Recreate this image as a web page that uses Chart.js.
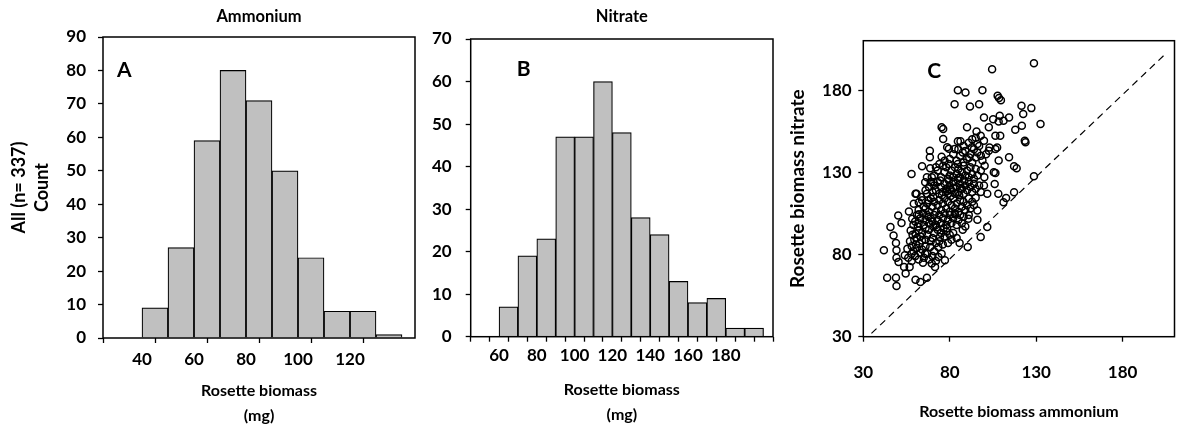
<!DOCTYPE html>
<html>
<head>
<meta charset="utf-8">
<script src="https://cdn.jsdelivr.net/npm/chart.js@4.4.0/dist/chart.umd.min.js"></script>
<style>
html, body { margin: 0; padding: 0; background: #fff; }
#wrap { position: relative; width: 1180px; height: 431px; overflow: hidden; }
.panel { position: absolute; top: 0; height: 431px; }
</style>
</head>
<body>
<div id="wrap">
  <div class="panel" style="left:0;width:420px"><canvas id="chartA"></canvas></div>
  <div class="panel" style="left:420px;width:360px"><canvas id="chartB"></canvas></div>
  <div class="panel" style="left:780px;width:400px"><canvas id="chartC"></canvas></div>
</div>
<script>
// histogram A - ammonium (bin centres, 10 mg bins)
const ammoniumBinCentres = [45, 55, 65, 75, 85, 95, 105, 115, 125, 135];
const ammoniumCounts = [9, 27, 59, 80, 71, 50, 24, 8, 8, 1];
const ammoniumTickLabels = [40, 60, 80, 100, 120];
const ammoniumTickMarks = [30, 50, 70, 90, 110, 130];

// histogram B - nitrate
const nitrateBinCentres = [65, 75, 85, 95, 105, 115, 125, 135, 145, 155, 165, 175, 185, 195];
const nitrateCounts = [7, 19, 23, 47, 47, 60, 48, 28, 24, 13, 8, 9, 2, 2];
const nitrateTickLabels = [60, 80, 100, 120, 140, 160, 180];

// scatter C - [ammonium, nitrate] per plant
const biomassPairs = [
  [128.7,196.3],[104.5,192.6],[84.7,179.9],[89.1,178.5],[98.9,179.9],[107.7,176.5],[109.6,173.8],[108.5,175.2],
  [82.8,171.4],[91.7,170.0],[97.0,171.4],[121.5,170.4],[122.5,165.4],[127.2,169.0],[99.8,163.3],[105.1,162.3],
  [108.9,164.3],[114.3,163.3],[108.3,160.9],[111.1,161.3],[132.5,159.3],[121.7,158.3],[117.9,155.9],[75.3,157.3],
  [76.2,156.3],[90.0,157.3],[102.6,157.3],[95.5,154.8],[97.9,152.2],[106.4,152.2],[109.2,152.2],[76.2,150.2],
  [84.7,148.8],[86.2,148.8],[123.4,149.2],[123.8,148.2],[78.5,145.2],[79.5,144.3],[92.8,145.2],[96.0,147.2],
  [99.8,149.2],[106.4,144.1],[107.4,145.0],[102.6,143.1],[114.3,139.1],[68.5,143.1],[68.5,139.1],[75.3,139.5],
  [82.8,144.1],[87.5,142.0],[91.3,139.0],[98.9,137.1],[108.3,137.1],[100.2,134.0],[117.2,133.6],[118.7,132.4],
  [64.0,133.6],[68.7,132.4],[76.2,134.0],[79.4,135.0],[84.7,135.0],[57.9,129.0],[128.7,127.6],[105.5,130.0],
  [106.4,129.5],[106.0,122.9],[99.8,122.0],[108.1,116.9],[117.2,117.9],[112.6,114.4],[111.1,111.8],[101.7,116.9],
  [96.0,106.8],[90.8,101.7],[96.0,101.1],[101.7,96.7],[97.9,90.6],[90.4,84.5],[85.7,87.0],[87.5,95.0],
  [81.0,89.0],[77.2,76.5],[73.4,78.5],[71.5,72.4],[66.8,65.8],[60.2,64.7],[63.0,63.3],[48.9,65.8],
  [49.2,60.9],[43.8,65.8],[41.9,82.5],[49.2,82.5],[49.2,78.0],[50.4,75.5],[53.6,72.4],[54.5,68.4],
  [56.8,72.4],[45.7,96.7],[47.5,91.6],[48.9,87.0],[50.2,103.7],[52.1,99.1],[56.4,106.2],[54.0,79.5],
  [55.5,83.5],[57.9,80.5],
  [60.2,116.9],[60.8,116.9],[59.2,110.8],[62.1,111.8],[58.3,101.7],[62.1,104.5],[57.4,94.6],[60.2,92.6],
  [62.1,94.6],[65.8,123.9],[66.8,127.0],[69.6,127.0],[70.5,123.9],[66.8,116.9],[67.7,113.0],[64.9,109.0],
  [67.7,103.0],[63.9,88.5],[65.8,80.5],[68.7,84.5],[69.6,74.5],[73.4,84.5],[74.3,90.6],[75.3,80.5],
  [56,78],[58,76],[59,82],[60,79],[61,84],[62,77],[63,81],[64,83],[58,85],[60.5,86],[62.5,86.5],
  [65,78],[66,85],[67,80.5],[68,77],[70,79],[71,82],[72,76],[64.5,75],[57,88],[59.5,89],[61,90],
  [63,91],[64,93],[66,89],[67,92],[68,95],[69,88],[70,90],[71,93],[72,87],[73,95],[74,88],[75,93],
  [76,86],[77,91],[78,94],[79,87],[80,92],[66,96],[70.5,97],[58.5,92],[61.5,97],[76.5,96],[82,93],[84,90],
  [59,98],[60,100],[62,99],[63,102],[65,98],[66,101],[67,104],[68,99],[69,102],[70,100],[71,104],[72,98],
  [73,101],[74,104],[75,99],[76,102],[77,105],[78,98],[79,101],[80,104],[81,99],[82,102],[83,105],[84,98],
  [85,101],[86,104],[87,99],[88,103],[72.5,96.5],[78.5,96],[89,97],[91,104],[64.5,105],[61,104],
  [62,107],[64,113],[66,108],[67,111],[68,106],[69,114],[70,109],[71,112],[72,106],[73,110],[74,113],
  [75,107],[76,111],[77,114],[78,108],[79,112],[80,106],[81,110],[82,114],[83,108],[84,111],[85,106],
  [86,113],[87,109],[88,112],[89,107],[90,110],[91,114],[92,108],[93,112],[94,110],[70.5,115],[75.5,116],
  [80.5,115.5],[85.5,116],[63.5,115],[95,114.5],[83,104.5],
  [66,119],[68,121],[70,118],[71,122],[72,119],[73,124],[74,117],[75,121],[76,118],[77,123],[78,120],
  [79,117],[80,122],[81,119],[82,124],[83,117],[84,121],[85,118],[86,123],[87,120],[88,117],[89,122],
  [90,119],[91,124],[92,121],[93,118],[94,123],[95,120],[97,122],[98,118],[74.5,125],[79.5,125],
  [84.5,125.5],[88.5,125],[69,124],[82,120.5],[78.5,118.5],[86,120.5],[80,119.5],
  [71,128],[73,131],[75,127],[77,130],[78,133],[80,128],[81,131],[82,127],[83,133],[84,129],[85,132],
  [86,127],[87,130],[88,134],[89,128],[90,131],[91,127],[92,133],[93,129],[95,132],[96,128],[98,131],
  [100,127],[72,133],[74,135],[79,126],[85,126.5],[94,126],
  [80,138],[82,141],[84,137],[86,140],[88,136],[89,143],[90,138],[92,141],[93,136],[94,144],[95,139],
  [96,142],[97,146],[98,140],[101,141],[103,145],[88,146],[91,148],[93,150],[95,151],[77,137],[85,144]
];
// dashed reference line, end points
const diagonalX = [34.7, 204.5];
const diagonalY = [32.0, 201.7];
const scatterTicks = [30, 80, 130, 180];

Chart.defaults.font.family = 'Lato';
Chart.defaults.font.weight = 'bold';
Chart.defaults.font.size = 16;
Chart.defaults.color = '#000';

// box round the plot area + panel letter
const framePlugin = {
    id: 'frame',
    afterDatasetsDraw(chart, args, opts) {
        const { ctx, chartArea: a } = chart;
        ctx.save();
        ctx.strokeStyle = '#000';
        ctx.lineWidth = 1.5;
        ctx.strokeRect(a.left, a.top, a.right - a.left, a.bottom - a.top);
        ctx.font = 'bold 21px Lato';
        ctx.fillStyle = '#000';
        ctx.textBaseline = 'alphabetic';
        ctx.fillText(opts.letter, a.left + opts.dx, a.top + opts.dy);
        ctx.restore();
    }
};

const tickGrid = {
    drawOnChartArea: false,
    tickLength: 5,
    tickWidth: 1.3,
    tickColor: '#000',
};
const tickFont = { size: 17 };

const barStyle = {
    backgroundColor: '#c0c0c0',
    borderColor: '#000',
    borderWidth: 1.2,
    barPercentage: 1,
    categoryPercentage: 1,
};

// A
new Chart(document.getElementById('chartA'), {
    type: 'bar',
    data: {
        datasets: [{
            ...barStyle,
            data: ammoniumBinCentres.map((x, i) => ({ x: x, y: ammoniumCounts[i] })),
        }]
    },
    options: {
        responsive: true,
        maintainAspectRatio: false,
        animation: false,
        layout: { padding: { left: 0, right: 5, top: 0, bottom: 0 } },
        plugins: {
            legend: { display: false },
            tooltip: { enabled: false },
            title: { display: true, text: 'Ammonium', fullSize: false, font: { size: 16.5 }, padding: { top: 7, bottom: 10.2 } },
            frame: { letter: 'A', dx: 14, dy: 40 },
        },
        scales: {
            x: {
                type: 'linear', min: 30, max: 140,
                afterFit: (s) => { s.height = 93; },
                border: { display: false },
                grid: {
                    ...tickGrid,
                    // excel-style: marks between the labels
                    tickColor: (c) => (c.tick && ammoniumTickMarks.includes(c.tick.value)) ? '#000' : 'rgba(0,0,0,0)',
                },
                ticks: {
                    stepSize: 10, autoSkip: false, maxRotation: 0, includeBounds: false, padding: 6, font: tickFont,
                    callback: (v) => ammoniumTickLabels.includes(v) ? v : '',
                },
                title: { display: true, text: ['Rosette biomass', '(mg)'], font: { size: 16, lineHeight: 1.55 }, padding: { top: 0, bottom: 2.5 } },
            },
            y: {
                min: 0, max: 90,
                afterFit: (s) => { s.width = 103; },
                border: { display: false },
                grid: tickGrid,
                ticks: { stepSize: 10, padding: 12, font: tickFont },
                title: { display: true, text: ['All (n= 337)', 'Count'], font: { size: 18, lineHeight: 1.3 }, padding: { top: 7.3, bottom: 0 } },
            },
        },
    },
    plugins: [framePlugin],
});

// B
new Chart(document.getElementById('chartB'), {
    type: 'bar',
    data: {
        datasets: [{
            ...barStyle,
            data: nitrateBinCentres.map((x, i) => ({ x: x, y: nitrateCounts[i] })),
        }]
    },
    options: {
        responsive: true,
        maintainAspectRatio: false,
        animation: false,
        layout: { padding: { left: 0, right: 7, top: 0, bottom: 0 } },
        plugins: {
            legend: { display: false },
            tooltip: { enabled: false },
            title: { display: true, text: 'Nitrate', fullSize: false, font: { size: 16.5 }, padding: { top: 7, bottom: 12.2 } },
            frame: { letter: 'B', dx: 46, dy: 37 },
        },
        scales: {
            x: {
                type: 'linear', min: 50, max: 200,
                afterFit: (s) => { s.height = 94.3; },
                border: { display: false },
                grid: tickGrid,
                ticks: {
                    stepSize: 10, autoSkip: false, maxRotation: 0, includeBounds: false, padding: 4, font: tickFont,
                    callback: (v) => nitrateTickLabels.includes(v) ? v : '',
                },
                title: { display: true, text: ['Rosette biomass', '(mg)'], font: { size: 16, lineHeight: 1.55 }, padding: { top: 0, bottom: 3.5 } },
            },
            y: {
                min: 0, max: 70,
                afterFit: (s) => { s.width = 50.7; },
                border: { display: false },
                grid: tickGrid,
                ticks: { stepSize: 10, padding: 14, font: tickFont },
            },
        },
    },
    plugins: [framePlugin],
});

// C
new Chart(document.getElementById('chartC'), {
    type: 'scatter',
    data: {
        datasets: [{
            data: biomassPairs.map((p) => ({ x: p[0], y: p[1] })),
            pointStyle: 'circle',
            pointRadius: 3.5,
            borderColor: '#000',
            backgroundColor: 'rgba(0,0,0,0)',
            borderWidth: 1.5,
        }, {
            data: diagonalX.map((x, i) => ({ x: x, y: diagonalY[i] })),
            showLine: true,
            pointRadius: 0,
            borderColor: '#000',
            borderWidth: 1.2,
            borderDash: [7, 5],
        }]
    },
    options: {
        responsive: true,
        maintainAspectRatio: false,
        animation: false,
        layout: { padding: { left: 0, right: 1, top: 40.7, bottom: 0 } },
        plugins: {
            legend: { display: false },
            tooltip: { enabled: false },
            frame: { letter: 'C', dx: 64, dy: 37 },
        },
        scales: {
            x: {
                type: 'linear', min: 30, max: 210,
                afterFit: (s) => { s.height = 94.3; },
                afterBuildTicks: (s) => { s.ticks = scatterTicks.map((v) => ({ value: v })); },
                border: { display: false },
                grid: tickGrid,
                ticks: { maxRotation: 0, padding: 21, font: tickFont },
                title: { display: true, text: 'Rosette biomass ammonium', padding: { top: 0, bottom: 10 } },
            },
            y: {
                min: 30, max: 210,
                afterFit: (s) => { s.width = 83.3; },
                afterBuildTicks: (s) => { s.ticks = scatterTicks.map((v) => ({ value: v })); },
                border: { display: false },
                grid: tickGrid,
                ticks: { padding: 6.6, font: tickFont },
                title: { display: true, text: 'Rosette biomass nitrate', font: { size: 19 }, padding: { top: 6.6, bottom: 0 } },
            },
        },
    },
    plugins: [framePlugin],
});
</script>
</body>
</html>
